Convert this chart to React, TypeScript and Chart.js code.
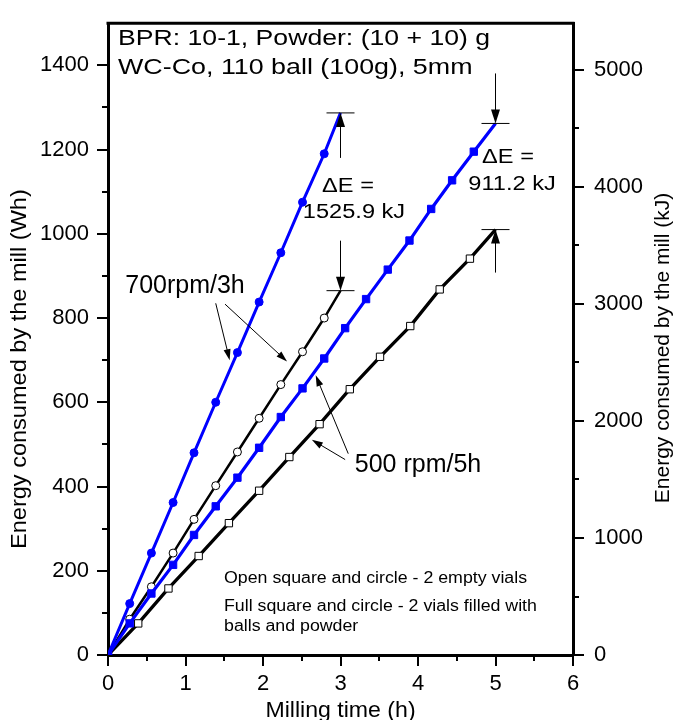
import React, { useEffect, useRef } from "react";
import { Chart, registerables } from "chart.js";

Chart.register(...registerables);

// ---- data (Milling time in h, energy in Wh) ----
const time700Full = [0, 0.28, 0.56, 0.84, 1.11, 1.39, 1.67, 1.95, 2.23, 2.51, 2.79, 3.0];
const energy700Full = [0, 122, 242, 362, 480, 600, 718, 838, 955, 1075, 1190, 1287];
const time700Empty = [0, 0.28, 0.56, 0.84, 1.11, 1.39, 1.67, 1.95, 2.23, 2.51, 2.79, 3.0];
const energy700Empty = [0, 85, 162, 242, 322, 402, 482, 562, 642, 720, 800, 865];
const time500Full = [0, 0.28, 0.56, 0.84, 1.11, 1.39, 1.67, 1.95, 2.23, 2.51, 2.79, 3.06, 3.33, 3.61, 3.89, 4.17, 4.44, 4.72, 5.0];
const energy500Full = [0, 75, 146, 214, 285, 353, 421, 492, 565, 633, 704, 776, 845, 915, 984, 1059, 1127, 1195, 1262];
const time500Empty = [0, 0.39, 0.78, 1.17, 1.56, 1.95, 2.34, 2.73, 3.12, 3.51, 3.9, 4.28, 4.67, 5.0];
const energy500Empty = [0, 75, 158, 235, 313, 390, 470, 548, 631, 708, 781, 868, 941, 1010];

const xTicksMajor = [0, 1, 2, 3, 4, 5, 6];
const xTicksMinor = [0.5, 1.5, 2.5, 3.5, 4.5, 5.5];
const yTicksMajor = [0, 200, 400, 600, 800, 1000, 1200, 1400];
const yTicksMinor = [100, 300, 500, 700, 900, 1100, 1300];
const y2TicksMajor = [0, 1000, 2000, 3000, 4000, 5000];
const y2TicksMinor = [500, 1500, 2500, 3500, 4500];
const WH_TO_KJ = 3.6;
const Y_MAX = 1500;

const xTitle = "Milling time (h)";
const yTitle = "Energy consumed by the mill (Wh)";
const y2Title = "Energy consumed by the mill (kJ)";
const headerLines = ["BPR: 10-1, Powder: (10 + 10) g", "WC-Co, 110 ball (100g), 5mm"];
const delta700 = ["\u0394E =", "1525.9 kJ"];
const delta500 = ["\u0394E =", "911.2 kJ"];
const label700 = "700rpm/3h";
const label500 = "500 rpm/5h";
const noteLines = [
  "Open square and circle - 2 empty vials",
  "Full square and circle - 2 vials filled with",
  "balls and powder",
];

const FONT = '"Liberation Sans", Arial, Helvetica, sans-serif';
const BLUE = "#0000ff";

const pts = (xs: number[], ys: number[]) => xs.map((x, i) => ({ x, y: ys[i] }));

function txt(ctx: CanvasRenderingContext2D, s: string, x: number, y: number, size: number,
  align: CanvasTextAlign = "left", sx = 1, rot = 0) {
  ctx.save();
  ctx.translate(x, y);
  if (rot) ctx.rotate(rot);
  ctx.scale(sx, 1);
  ctx.font = `${size}px ${FONT}`;
  ctx.textAlign = align;
  ctx.textBaseline = "alphabetic";
  ctx.fillStyle = "#000";
  ctx.fillText(s, 0, 0);
  ctx.restore();
}

function arrow(ctx: CanvasRenderingContext2D, x1: number, y1: number, x2: number, y2: number,
  head = 12, half = 4, lw = 1) {
  const a = Math.atan2(y2 - y1, x2 - x1);
  ctx.save();
  ctx.strokeStyle = "#000";
  ctx.fillStyle = "#000";
  ctx.lineWidth = lw;
  ctx.beginPath();
  ctx.moveTo(x1, y1);
  ctx.lineTo(x2 - Math.cos(a) * head * 0.6, y2 - Math.sin(a) * head * 0.6);
  ctx.stroke();
  ctx.beginPath();
  ctx.moveTo(x2, y2);
  ctx.lineTo(x2 - Math.cos(a) * head - Math.sin(a) * half, y2 - Math.sin(a) * head + Math.cos(a) * half);
  ctx.lineTo(x2 - Math.cos(a) * head + Math.sin(a) * half, y2 - Math.sin(a) * head - Math.cos(a) * half);
  ctx.closePath();
  ctx.fill();
  ctx.restore();
}

function line(ctx: CanvasRenderingContext2D, x1: number, y1: number, x2: number, y2: number, lw = 1) {
  ctx.save();
  ctx.strokeStyle = "#000";
  ctx.lineWidth = lw;
  ctx.beginPath();
  ctx.moveTo(x1, y1);
  ctx.lineTo(x2, y2);
  ctx.stroke();
  ctx.restore();
}

const decorPlugin = {
  id: "decor",
  afterDraw(chart: any) {
    const ctx: CanvasRenderingContext2D = chart.ctx;
    const xs = chart.scales.x;
    const ys = chart.scales.y;
    const y2s = chart.scales.y2;
    const { left, right, top, bottom } = chart.chartArea;

    // top frame
    line(ctx, left - 1.5, top, right + 1.5, top, 3);

    // minor ticks
    xTicksMinor.forEach((v) => {
      const px = Math.round(xs.getPixelForValue(v));
      line(ctx, px, bottom, px, bottom + 6, 2);
    });
    yTicksMinor.forEach((v) => {
      const py = Math.round(ys.getPixelForValue(v));
      line(ctx, left - 6, py, left, py, 2);
    });
    y2TicksMinor.forEach((v) => {
      const py = Math.round(y2s.getPixelForValue(v));
      line(ctx, right, py, right + 6, py, 2);
    });

    // axis titles
    txt(ctx, xTitle, (left + right) / 2, 717, 22, "center", 1.05);
    txt(ctx, yTitle, 26, (top + bottom) / 2 + 30, 22, "center", 1.07, -Math.PI / 2);
    txt(ctx, y2Title, 669, 348, 21, "center", 1.0, -Math.PI / 2);

    // header text
    txt(ctx, headerLines[0], 118, 45, 22, "left", 1.21);
    txt(ctx, headerLines[1], 118, 74, 22, "left", 1.22);

    // delta-E markers at series ends
    const e700f = { x: xs.getPixelForValue(time700Full[time700Full.length - 1]), y: ys.getPixelForValue(energy700Full[energy700Full.length - 1]) };
    const e700e = { x: xs.getPixelForValue(time700Empty[time700Empty.length - 1]), y: ys.getPixelForValue(energy700Empty[energy700Empty.length - 1]) };
    const e500f = { x: xs.getPixelForValue(time500Full[time500Full.length - 1]), y: ys.getPixelForValue(energy500Full[energy500Full.length - 1]) };
    const e500e = { x: xs.getPixelForValue(time500Empty[time500Empty.length - 1]), y: ys.getPixelForValue(energy500Empty[energy500Empty.length - 1]) };

    [e700f, e700e, e500f, e500e].forEach((p) => line(ctx, p.x - 14, p.y, p.x + 14, p.y, 1));
    arrow(ctx, e700f.x, e700f.y + 45, e700f.x, e700f.y, 14, 4.5);
    arrow(ctx, e700e.x, e700e.y - 50, e700e.x, e700e.y, 14, 4.5);
    arrow(ctx, e500f.x, e500f.y - 50, e500f.x, e500f.y, 14, 4.5);
    arrow(ctx, e500e.x, e500e.y + 43, e500e.x, e500e.y, 14, 4.5);

    txt(ctx, delta700[0], 348, 192, 20, "center", 1.18);
    txt(ctx, delta700[1], 354, 218, 20, "center", 1.18);
    txt(ctx, delta500[0], 508, 163, 20, "center", 1.18);
    txt(ctx, delta500[1], 512, 190, 20, "center", 1.18);

    // series labels with pointers
    txt(ctx, label700, 185, 293, 25, "center", 1.0);
    const P = (t: number, e: number) => [xs.getPixelForValue(t), ys.getPixelForValue(e)];
    let a = P(1.39, 835), b = P(1.57, 700);
    arrow(ctx, a[0], a[1], b[0], b[1], 11, 3.5);
    a = P(1.51, 833); b = P(2.31, 697);
    arrow(ctx, a[0], a[1], b[0], b[1], 11, 3.5);

    txt(ctx, label500, 418, 472, 25, "center", 1.0);
    a = P(3.1, 478); b = P(2.68, 664);
    arrow(ctx, a[0], a[1], b[0], b[1], 11, 3.5);
    a = P(3.06, 464); b = P(2.63, 511);
    arrow(ctx, a[0], a[1], b[0], b[1], 11, 3.5);

    // notes
    txt(ctx, noteLines[0], 224, 583, 16, "left", 1.11);
    txt(ctx, noteLines[1], 224, 611, 16, "left", 1.11);
    txt(ctx, noteLines[2], 224, 631, 16, "left", 1.11);
  },
};

export default function App() {
  const ref = useRef<HTMLCanvasElement>(null);
  useEffect(() => {
    document.body.style.margin = "0";
    const canvas = ref.current!;
    const lastR = (r: number) => (c: any) => (c.dataIndex === c.dataset.data.length - 1 ? 0 : r);
    const tickFont = { family: FONT, size: 22 };
    const plain = (v: any) => String(v);
    const chart = new Chart(canvas, {
      type: "line",
      data: {
        datasets: [
          {
            label: "700 rpm full",
            data: pts(time700Full, energy700Full),
            borderColor: BLUE, backgroundColor: BLUE, borderWidth: 3,
            pointStyle: "circle", pointRadius: lastR(4), pointBackgroundColor: BLUE,
            pointBorderColor: BLUE, pointBorderWidth: 1, order: 0,
          },
          {
            label: "500 rpm full",
            data: pts(time500Full, energy500Full),
            borderColor: BLUE, backgroundColor: BLUE, borderWidth: 3.2,
            pointStyle: "rect", pointRadius: lastR(5.2), pointBackgroundColor: BLUE,
            pointBorderColor: BLUE, pointBorderWidth: 1, order: 0,
          },
          {
            label: "700 rpm empty",
            data: pts(time700Empty, energy700Empty),
            borderColor: "#000", backgroundColor: "#fff", borderWidth: 2.5,
            pointStyle: "circle", pointRadius: lastR(4), pointBackgroundColor: "#fff",
            pointBorderColor: "#000", pointBorderWidth: 1, order: 1,
          },
          {
            label: "500 rpm empty",
            data: pts(time500Empty, energy500Empty),
            borderColor: "#000", backgroundColor: "#fff", borderWidth: 3.3,
            pointStyle: "rect", pointRadius: lastR(5.2), pointBackgroundColor: "#fff",
            pointBorderColor: "#000", pointBorderWidth: 1, order: 1,
          },
        ],
      },
      options: {
        responsive: false,
        animation: false,
        devicePixelRatio: 1,
        parsing: false as any,
        layout: { padding: { top: 17, left: 0, right: 0, bottom: 0 } },
        plugins: { legend: { display: false }, tooltip: { enabled: false } },
        elements: { line: { tension: 0 } },
        scales: {
          x: {
            type: "linear", position: "bottom", min: 0, max: 6,
            afterBuildTicks: (s: any) => { s.ticks = xTicksMajor.map((v) => ({ value: v })); },
            ticks: { font: tickFont, color: "#000", padding: 5, maxRotation: 0, callback: plain },
            grid: { drawOnChartArea: false, color: "#000", lineWidth: 2, tickLength: 11 },
            border: { color: "#000", width: 3 },
            afterFit: (s: any) => { s.height = 65; },
          },
          y: {
            type: "linear", position: "left", min: 0, max: Y_MAX,
            afterBuildTicks: (s: any) => { s.ticks = yTicksMajor.map((v) => ({ value: v })); },
            ticks: { font: tickFont, color: "#000", padding: 8, callback: plain },
            grid: { drawOnChartArea: false, color: "#000", lineWidth: 2, tickLength: 11 },
            border: { color: "#000", width: 3 },
            afterFit: (s: any) => { s.width = 108; },
          },
          y2: {
            type: "linear", position: "right", min: 0, max: Y_MAX * WH_TO_KJ,
            afterBuildTicks: (s: any) => { s.ticks = y2TicksMajor.map((v) => ({ value: v })); },
            ticks: { font: tickFont, color: "#000", padding: 10, callback: plain },
            grid: { drawOnChartArea: false, color: "#000", lineWidth: 2, tickLength: 11 },
            border: { color: "#000", width: 3 },
            afterFit: (s: any) => { s.width = 105; },
          },
        },
      },
      plugins: [decorPlugin],
    });
    return () => chart.destroy();
  }, []);
  return (
    <div style={{ width: 678, height: 720 }}>
      <canvas ref={ref} width={678} height={720} style={{ display: "block" }} />
    </div>
  );
}
